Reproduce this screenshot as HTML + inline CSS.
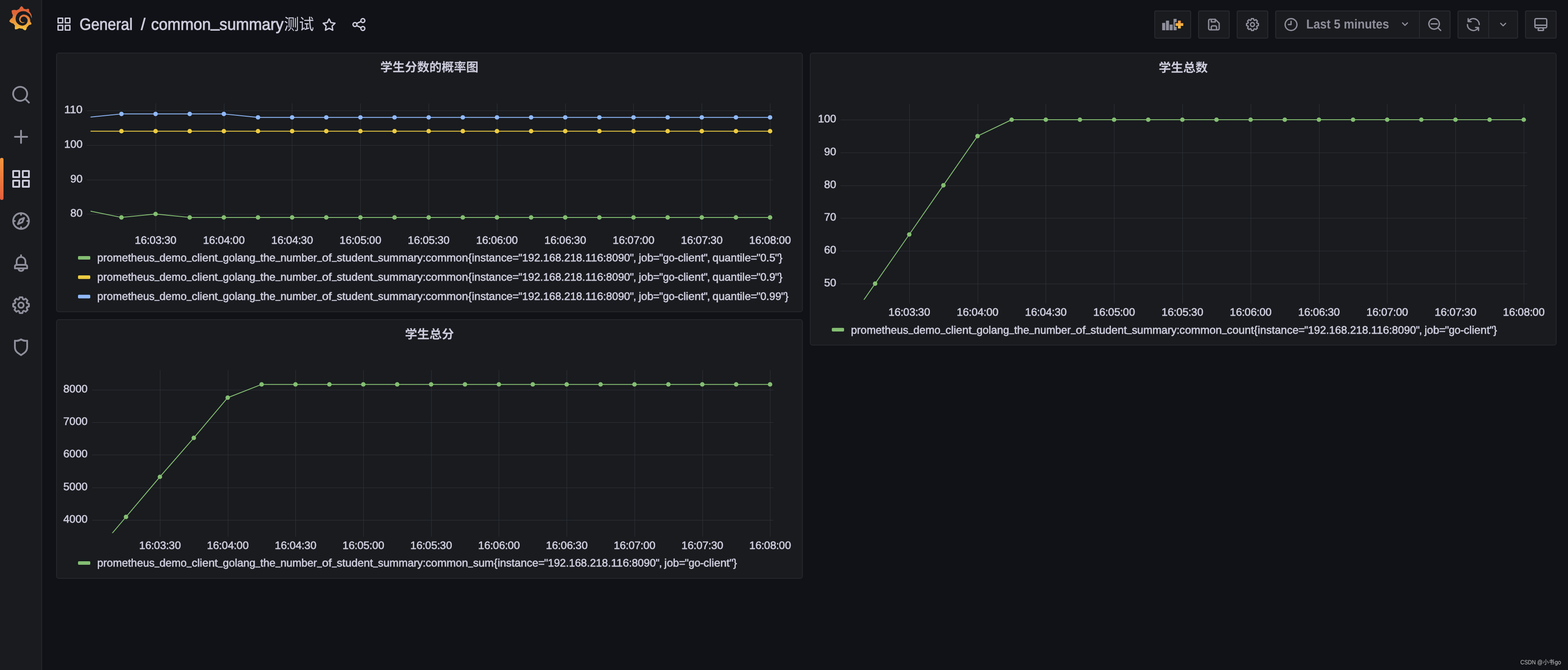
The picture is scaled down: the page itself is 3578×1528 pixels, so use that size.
<!DOCTYPE html>
<html lang="en"><head><meta charset="utf-8"><title>common_summary - Grafana</title>
<style>
html,body{margin:0;padding:0;background:#111217;}
body{width:3578px;height:1528px;position:relative;overflow:hidden;font-family:"Liberation Sans","Noto Sans CJK SC",sans-serif;}
svg{display:block;will-change:transform;text-rendering:geometricPrecision;font-family:"Liberation Sans","Noto Sans CJK SC",sans-serif;}
.ic{position:absolute;}
.side{position:absolute;left:0;top:0;width:94px;height:1528px;background:#191b1f;border-right:2px solid #25262c;}
.active{position:absolute;left:0;top:360px;width:8px;height:96px;border-radius:4px;background:linear-gradient(#f2953f,#e35f3e);}
.tb{position:absolute;left:0;top:0;width:3578px;height:112px;}
.btn{position:absolute;top:24px;height:64px;box-sizing:border-box;background:#191b1f;border:2px solid #292a30;border-radius:4px;}
.div{position:absolute;top:26px;width:2px;height:60px;background:#292a30;}
.panel{position:absolute;box-sizing:border-box;background:#191b1f;border:2px solid #25262c;border-radius:6px;}
.panel svg{position:absolute;left:-2px;top:-2px;}
.grid{stroke:#2e3136;stroke-width:1;fill:none;shape-rendering:crispEdges;}
.ln{fill:none;stroke-width:2;stroke-linejoin:round;}
.ax text,.lg text{font-size:24.7px;fill:#ccccdc;stroke:#ccccdc;stroke-width:0.75px;}
</style></head>
<body>
<nav class="side">
<svg class="ic" style="left:19.1px;top:13.9px" width="55.8" height="55.2" viewBox="0 0 24 24" preserveAspectRatio="none"><defs><linearGradient id="gl" x1="0" y1="0" x2="0" y2="1"><stop offset="0" stop-color="#de6238"/><stop offset="0.3" stop-color="#df6538"/><stop offset="0.55" stop-color="#e88c38"/><stop offset="1" stop-color="#f5c840"/></linearGradient></defs><path fill="url(#gl)" d="M23.02 10.59a8.6 8.6 0 0 0-.862-3.034 8.9 8.9 0 0 0-1.789-2.445c.337-1.342-.413-2.505-.413-2.505-1.292-.08-2.113.4-2.416.62q-.077-.032-.154-.064-.33-.134-.677-.247-.348-.11-.711-.197a10 10 0 0 0-.875-.161C14.557.753 12.94 0 12.94 0c-1.804 1.145-2.147 2.744-2.147 2.744l-.018.093q-.149.042-.298.088c-.138.042-.275.094-.413.143-.138.055-.275.107-.41.166a9 9 0 0 0-1.557.87l-.063-.029c-2.497-.955-4.716.195-4.716.195-.203 2.658.996 4.33 1.235 4.636a11.6 11.6 0 0 0-.607 2.635C1.636 12.677.953 15.014.953 15.014c1.926 2.214 4.171 2.351 4.171 2.351q.005-.002.006-.005c.285.509.615.994.986 1.446q.235.284.488.548c-.704 2.009.099 3.68.099 3.68 2.144.08 3.553-.937 3.849-1.173a9.8 9.8 0 0 0 3.164.501h.08l.055-.003.107-.002.103-.005.003.002c1.01 1.44 2.788 1.646 2.788 1.646 1.264-1.332 1.337-2.653 1.337-2.94v-.058q-.002-.03-.003-.06.4-.28.758-.6a7.9 7.9 0 0 0 1.415-1.7c1.43.083 2.437-.885 2.437-.885-.236-1.49-1.085-2.216-1.264-2.354l-.018-.013-.016-.013-.031-.02q.013-.137.02-.27.016-.244.016-.48v-.253l-.005-.098-.008-.135a2 2 0 0 0-.01-.13q-.005-.063-.013-.125l-.016-.124-.018-.122a6.2 6.2 0 0 0-2.032-3.73 6 6 0 0 0-3.222-1.46 6 6 0 0 0-.85-.048l-.107.002h-.063l-.044.003-.104.008a4.78 4.78 0 0 0-3.335 1.695c-.332.4-.592.84-.768 1.297a4.6 4.6 0 0 0-.312 1.817l.003.091q.006.083.013.164a3.6 3.6 0 0 0 .698 1.82 3.53 3.53 0 0 0 1.827 1.282c.33.098.66.14.971.137q.06 0 .114-.002l.063-.003q.03-.002.062-.003.05-.004.099-.01.012-.001.028-.003l.031-.005.06-.008a1 1 0 0 0 .112-.02c.036-.008.072-.013.109-.024a2.6 2.6 0 0 0 .914-.415q.042-.03.085-.065a.25.25 0 0 0 .039-.35.244.244 0 0 0-.309-.06l-.078.042q-.135.066-.283.116a2.5 2.5 0 0 1-.475.096q-.04.005-.083.006l-.083.002q-.04 0-.08-.002l-.102-.006h-.012l-.024.006q-.024-.003-.044-.006-.046-.004-.091-.01a2.6 2.6 0 0 1-.724-.213 2.6 2.6 0 0 1-.667-.438 2.52 2.52 0 0 1-.805-1.475 2.3 2.3 0 0 1-.029-.444l.006-.122v-.023l.002-.031q.003-.03.005-.06a3.16 3.16 0 0 1 1.352-2.29 3.1 3.1 0 0 1 .937-.43 3 3 0 0 1 .776-.101h.06l.07.002.045.003h.026l.07.005a4 4 0 0 1 1.635.49 3.94 3.94 0 0 1 1.602 1.662 3.8 3.8 0 0 1 .397 1.414l.005.076.003.075q.002.038.002.075c0 .024.003.052 0 .07v.065l-.002.073-.008.174a6 6 0 0 1-.08.639 5 5 0 0 1-.267.927 5.3 5.3 0 0 1-.624 1.13 5.05 5.05 0 0 1-3.237 2.014 5 5 0 0 1-.649.066l-.039.003h-.287a6.6 6.6 0 0 1-1.716-.265 6.78 6.78 0 0 1-3.4-2.274 6.8 6.8 0 0 1-.746-1.15 6.6 6.6 0 0 1-.714-2.596l-.005-.083-.002-.02v-.056l-.003-.073v-.096l-.003-.104v-.07l.003-.163c.008-.22.026-.45.054-.678a9 9 0 0 1 .28-1.355q.192-.668.473-1.277a7 7 0 0 1 1.456-2.1 6 6 0 0 1 .953-.763q.253-.166.524-.306c.089-.05.182-.091.273-.135q.07-.031.138-.062a7 7 0 0 1 .714-.267l.145-.045c.049-.015.098-.026.148-.041q.147-.042.296-.076c.049-.013.1-.02.15-.033l.15-.032.151-.028.076-.013.075-.01.153-.024c.057-.01.114-.013.171-.023l.169-.021q.055-.006.106-.01l.073-.008.036-.003.042-.002q.086-.006.171-.01l.086-.006h.023l.037-.003.145-.007a8 8 0 0 1 1.708.125 8 8 0 0 1 2.048.68 8.3 8.3 0 0 1 1.672 1.09l.09.077.089.078c.06.052.114.107.171.159q.085.079.166.16.08.08.159.164a8.7 8.7 0 0 1 1.41 1.978c.012.026.028.052.04.078l.04.078.075.156c.023.051.05.1.07.153l.065.15a9 9 0 0 1 .45 1.34.19.19 0 0 0 .201.142.186.186 0 0 0 .172-.184q.015-.37-.024-.856z"/></svg>
<svg class="ic" style="left:23.9px;top:191.8px" width="48" height="48" viewBox="0 0 24 24"><path fill="#8e8f9b" d="M21.71,20.29,18,16.61A9,9,0,1,0,16.61,18l3.68,3.68a1,1,0,0,0,1.42,0A1,1,0,0,0,21.71,20.29ZM11,18a7,7,0,1,1,7-7A7,7,0,0,1,11,18Z"/></svg>
<svg class="ic" style="left:23.9px;top:287.8px" width="48" height="48" viewBox="0 0 24 24"><path fill="#8e8f9b" d="M19,11H13V5a1,1,0,0,0-2,0v6H5a1,1,0,0,0,0,2h6v6a1,1,0,0,0,2,0V13h6a1,1,0,0,0,0-2Z"/></svg>
<svg class="ic" style="left:23.9px;top:383.8px" width="48" height="48" viewBox="0 0 24 24"><path fill="#ccccdc" d="M10,13H3a1,1,0,0,0-1,1v7a1,1,0,0,0,1,1h7a1,1,0,0,0,1-1V14A1,1,0,0,0,10,13ZM9,20H4V15H9ZM21,2H14a1,1,0,0,0-1,1v7a1,1,0,0,0,1,1h7a1,1,0,0,0,1-1V3A1,1,0,0,0,21,2ZM20,9H15V4h5Zm1,4H14a1,1,0,0,0-1,1v7a1,1,0,0,0,1,1h7a1,1,0,0,0,1-1V14A1,1,0,0,0,21,13Zm-1,7H15V15h5ZM10,2H3A1,1,0,0,0,2,3v7a1,1,0,0,0,1,1h7a1,1,0,0,0,1-1V3A1,1,0,0,0,10,2ZM9,9H4V4H9Z"/></svg>
<svg class="ic" style="left:23.9px;top:479.8px" width="48" height="48" viewBox="0 0 24 24"><path fill="#8e8f9b" d="M12,2A10,10,0,1,0,22,12,10,10,0,0,0,12,2Zm1,17.93V19a1,1,0,0,0-2,0v.93A8,8,0,0,1,4.07,13H5a1,1,0,0,0,0-2H4.07A8,8,0,0,1,11,4.07V5a1,1,0,0,0,2,0V4.07A8,8,0,0,1,19.93,11H19a1,1,0,0,0,0,2h.93A8,8,0,0,1,13,19.93ZM15.14,7.55l-5,2.12a1,1,0,0,0-.53.53l-2.12,5a1,1,0,0,0,.21,1.1,1,1,0,0,0,.7.29.93.93,0,0,0,.39-.08l5-2.12a1,1,0,0,0,.53-.53l2.12-5a1,1,0,0,0-1.31-1.31Zm-2.49,5.1-2.28,1,1-2.28,2.27-1Z"/></svg>
<svg class="ic" style="left:23.9px;top:575.8px" width="48" height="48" viewBox="0 0 24 24"><path fill="#8e8f9b" d="M18,13.18V10a6,6,0,0,0-5-5.91V3a1,1,0,0,0-2,0V4.09A6,6,0,0,0,6,10v3.18A3,3,0,0,0,4,16v2a1,1,0,0,0,1,1H8.14a4,4,0,0,0,7.72,0H19a1,1,0,0,0,1-1V16A3,3,0,0,0,18,13.18ZM8,10a4,4,0,0,1,8,0v3H8Zm4,10a2,2,0,0,1-1.72-1h3.44A2,2,0,0,1,12,20Zm6-3H6V16a1,1,0,0,1,1-1H17a1,1,0,0,1,1,1Z"/></svg>
<svg class="ic" style="left:23.9px;top:671.8px" width="48" height="48" viewBox="0 0 24 24"><path fill="#8e8f9b" d="M21.32,9.55l-1.89-.63.89-1.78A1,1,0,0,0,20.13,6L18,3.87a1,1,0,0,0-1.15-.19l-1.78.89-.63-1.89A1,1,0,0,0,13.5,2h-3a1,1,0,0,0-.95.68L8.92,4.57,7.14,3.68A1,1,0,0,0,6,3.87L3.87,6a1,1,0,0,0-.19,1.15l.89,1.78-1.89.63A1,1,0,0,0,2,10.5v3a1,1,0,0,0,.68.95l1.89.63-.89,1.78A1,1,0,0,0,3.87,18L6,20.13a1,1,0,0,0,1.15.19l1.78-.89.63,1.89a1,1,0,0,0,.95.68h3a1,1,0,0,0,.95-.68l.63-1.89,1.78.89A1,1,0,0,0,18,20.13L20.13,18a1,1,0,0,0,.19-1.15l-.89-1.78,1.89-.63A1,1,0,0,0,22,13.5v-3A1,1,0,0,0,21.32,9.55ZM20,12.78l-1.2.4A2,2,0,0,0,17.64,16l.57,1.14-1.1,1.1L16,17.64a2,2,0,0,0-2.79,1.16l-.4,1.2H11.22l-.4-1.2A2,2,0,0,0,8,17.64l-1.14.57-1.1-1.1L6.36,16A2,2,0,0,0,5.2,13.18L4,12.78V11.22l1.2-.4A2,2,0,0,0,6.36,8L5.79,6.89l1.1-1.1L8,6.36A2,2,0,0,0,10.82,5.2l.4-1.2h1.56l.4,1.2A2,2,0,0,0,16,6.36l1.14-.57,1.1,1.1L17.64,8a2,2,0,0,0,1.16,2.79l1.2.4ZM12,8a4,4,0,1,0,4,4A4,4,0,0,0,12,8Zm0,6a2,2,0,1,1,2-2A2,2,0,0,1,12,14Z"/></svg>
<svg class="ic" style="left:23.9px;top:767.8px" width="48" height="48" viewBox="0 0 24 24"><path fill="#8e8f9b" d="M19.63,3.65a1,1,0,0,0-.84-.2,8,8,0,0,1-6.22-1.27,1,1,0,0,0-1.14,0A8,8,0,0,1,5.21,3.45a1,1,0,0,0-.84.2A1,1,0,0,0,4,4.43v7.45a9,9,0,0,0,3.77,7.33l3.65,2.6a1,1,0,0,0,1.16,0l3.65-2.6A9,9,0,0,0,20,11.88V4.43A1,1,0,0,0,19.63,3.65ZM18,11.88a7,7,0,0,1-2.93,5.7L12,19.77,8.93,17.58A7,7,0,0,1,6,11.88V5.58a10,10,0,0,0,6-1.39,10,10,0,0,0,6,1.39Z"/></svg>
<div class="active"></div>
</nav>
<header class="tb">
<svg class="ic" style="left:128px;top:37.2px" width="36" height="36" viewBox="0 0 24 24"><path fill="#ccccdc" d="M10,13H3a1,1,0,0,0-1,1v7a1,1,0,0,0,1,1h7a1,1,0,0,0,1-1V14A1,1,0,0,0,10,13ZM9,20H4V15H9ZM21,2H14a1,1,0,0,0-1,1v7a1,1,0,0,0,1,1h7a1,1,0,0,0,1-1V3A1,1,0,0,0,21,2ZM20,9H15V4h5Zm1,4H14a1,1,0,0,0-1,1v7a1,1,0,0,0,1,1h7a1,1,0,0,0,1-1V14A1,1,0,0,0,21,13Zm-1,7H15V15h5ZM10,2H3A1,1,0,0,0,2,3v7a1,1,0,0,0,1,1h7a1,1,0,0,0,1-1V3A1,1,0,0,0,10,2ZM9,9H4V4H9Z"/></svg>
<svg class="ic" style="left:96px;top:0" width="900" height="112" viewBox="96 0 900 112"><g font-size="37.3" fill="#ccccdc" stroke="#ccccdc" stroke-width="1"><text x="181.5" y="67.6" textLength="121" lengthAdjust="spacingAndGlyphs" font-size="37.3">General</text><text x="321.5" y="67.6" font-size="37.3">/</text><text x="344.8" y="67.6" textLength="302.2" lengthAdjust="spacingAndGlyphs" font-size="37.3">common<tspan dy="-5.41">_</tspan><tspan dy="5.41">s</tspan>ummary</text></g><text x="648" y="67.6" font-size="36" fill="#ccccdc" font-family="&quot;Liberation Sans&quot;,&quot;Noto Sans CJK SC&quot;,sans-serif" textLength="68.5" lengthAdjust="spacingAndGlyphs">测试</text></svg>
<svg class="ic" style="left:732.7px;top:38px" width="36" height="36" viewBox="0 0 24 24"><path fill="#ccccdc" d="M22,9.67A1,1,0,0,0,21.14,9l-5.69-.83L12.9,3a1,1,0,0,0-1.8,0L8.55,8.16,2.86,9a1,1,0,0,0-.81.68,1,1,0,0,0,.25,1l4.13,4-1,5.68A1,1,0,0,0,6.9,21.44L12,18.77l5.1,2.67a.93.93,0,0,0,.46.12,1,1,0,0,0,.59-.19,1,1,0,0,0,.4-1l-1-5.68,4.13-4A1,1,0,0,0,22,9.67Zm-6.15,4a1,1,0,0,0-.29.88l.72,4.2-3.76-2a1.06,1.06,0,0,0-.94,0l-3.76,2,.72-4.2a1,1,0,0,0-.29-.88l-3-3,4.21-.61a1,1,0,0,0,.76-.55L12,5.7l1.88,3.82a1,1,0,0,0,.76.55l4.21.61Z"/></svg>
<svg class="ic" style="left:801px;top:38px" width="36" height="36" viewBox="0 0 24 24"><path fill="#ccccdc" d="M18,14a4,4,0,0,0-3.08,1.48l-5.1-2.35a3.64,3.64,0,0,0,0-2.26l5.1-2.35A4,4,0,1,0,14,6a4.17,4.17,0,0,0,.07.71L8.79,9.14a4,4,0,1,0,0,5.72l5.28,2.43A4.17,4.17,0,0,0,14,18a4,4,0,1,0,4-4ZM18,4a2,2,0,1,1-2,2A2,2,0,0,1,18,4ZM6,14a2,2,0,1,1,2-2A2,2,0,0,1,6,14Zm12,6a2,2,0,1,1,2-2A2,2,0,0,1,18,20Z"/></svg>
<div class="btn" style="left:2634px;width:84px"></div>
<div class="btn" style="left:2734px;width:72px"></div>
<div class="btn" style="left:2822px;width:72px"></div>
<div class="btn" style="left:2910px;width:400px"></div>
<div class="div" style="left:3238px"></div>
<div class="btn" style="left:3326px;width:138px"></div>
<div class="div" style="left:3396px"></div>
<div class="btn" style="left:3480px;width:72px"></div>
<svg class="ic" style="left:2646px;top:36px" width="60" height="40" viewBox="2646 36 60 40"><defs><linearGradient id="gp" x1="0" y1="0" x2="0" y2="1"><stop offset="0" stop-color="#ef8f3e"/><stop offset="1" stop-color="#f9cb4a"/></linearGradient></defs>
<path fill="#8e8f9b" d="M2651.9 52.2h7v16.9h-7zM2660.6 47h7v22.1h-7zM2669 56h7v13.1h-7zM2677.9 43h7v26.1h-7z"/>
<path fill="#191b1f" d="M2686 44.5h10.4v6h6v10.4h-6v6h-10.4v-6h-5.2v-10.4h5.2z"/>
<path fill="url(#gp)" d="M2688 47h6.4v5.7h5.7v6.4h-5.7v5.7h-6.4v-5.7h-5.7v-6.4h5.7z"/></svg>
<svg class="ic" style="left:2752px;top:38px" width="36" height="36" viewBox="0 0 24 24"><path fill="#8e8f9b" d="M20.71,9.29l-6-6a1,1,0,0,0-.32-.21A1.09,1.09,0,0,0,14,3H6A3,3,0,0,0,3,6V18a3,3,0,0,0,3,3H18a3,3,0,0,0,3-3V10A1,1,0,0,0,20.71,9.29ZM9,5h4V7H9Zm6,14H9V16a1,1,0,0,1,1-1h4a1,1,0,0,1,1,1Zm4-1a1,1,0,0,1-1,1H17V16a3,3,0,0,0-3-3H10a3,3,0,0,0-3,3v3H6a1,1,0,0,1-1-1V6A1,1,0,0,1,6,5H7V8A1,1,0,0,0,8,9h6a1,1,0,0,0,1-1V6.41l4,4Z"/></svg>
<svg class="ic" style="left:2840px;top:38px" width="36" height="36" viewBox="0 0 24 24"><path fill="#8e8f9b" d="M21.32,9.55l-1.89-.63.89-1.78A1,1,0,0,0,20.13,6L18,3.87a1,1,0,0,0-1.15-.19l-1.78.89-.63-1.89A1,1,0,0,0,13.5,2h-3a1,1,0,0,0-.95.68L8.92,4.57,7.14,3.68A1,1,0,0,0,6,3.87L3.87,6a1,1,0,0,0-.19,1.15l.89,1.78-1.89.63A1,1,0,0,0,2,10.5v3a1,1,0,0,0,.68.95l1.89.63-.89,1.78A1,1,0,0,0,3.87,18L6,20.13a1,1,0,0,0,1.15.19l1.78-.89.63,1.89a1,1,0,0,0,.95.68h3a1,1,0,0,0,.95-.68l.63-1.89,1.78.89A1,1,0,0,0,18,20.13L20.13,18a1,1,0,0,0,.19-1.15l-.89-1.78,1.89-.63A1,1,0,0,0,22,13.5v-3A1,1,0,0,0,21.32,9.55ZM20,12.78l-1.2.4A2,2,0,0,0,17.64,16l.57,1.14-1.1,1.1L16,17.64a2,2,0,0,0-2.79,1.16l-.4,1.2H11.22l-.4-1.2A2,2,0,0,0,8,17.64l-1.14.57-1.1-1.1L6.36,16A2,2,0,0,0,5.2,13.18L4,12.78V11.22l1.2-.4A2,2,0,0,0,6.36,8L5.79,6.89l1.1-1.1L8,6.36A2,2,0,0,0,10.82,5.2l.4-1.2h1.56l.4,1.2A2,2,0,0,0,16,6.36l1.14-.57,1.1,1.1L17.64,8a2,2,0,0,0,1.16,2.79l1.2.4ZM12,8a4,4,0,1,0,4,4A4,4,0,0,0,12,8Zm0,6a2,2,0,1,1,2-2A2,2,0,0,1,12,14Z"/></svg>
<svg class="ic" style="left:2928px;top:38px" width="36" height="36" viewBox="0 0 24 24"><path fill="#8e8f9b" d="M12,2A10,10,0,1,0,22,12,10.01,10.01,0,0,0,12,2Zm0,18a8,8,0,1,1,8-8A8.01,8.01,0,0,1,12,20ZM12,6a1,1,0,0,0-1,1v4H8a1,1,0,0,0,0,2h4a1,1,0,0,0,1-1V7A1,1,0,0,0,12,6Z"/></svg>
<svg class="ic" style="left:2970px;top:24px" width="220" height="64" viewBox="2970 24 220 64"><text x="2980.8" y="65.1" textLength="189" lengthAdjust="spacingAndGlyphs" font-size="29.6" fill="#8e8f9b" font-weight="bold">Last 5 minutes</text></svg>
<svg class="ic" style="left:3189.8px;top:39.4px" width="32" height="32" viewBox="0 0 24 24"><path fill="#8e8f9b" d="M17,9.17a1,1,0,0,0-1.41,0L12,12.71,8.46,9.17a1,1,0,0,0-1.41,0,1,1,0,0,0,0,1.42l4.24,4.24a1,1,0,0,0,1.42,0L17,10.59A1,1,0,0,0,17,9.17Z"/></svg>
<svg class="ic" style="left:3256px;top:38px" width="36" height="36" viewBox="0 0 24 24"><path fill="#8e8f9b" d="M21.71,20.29,18,16.61A9,9,0,1,0,16.61,18l3.68,3.68a1,1,0,0,0,1.42,0A1,1,0,0,0,21.71,20.29ZM11,18a7,7,0,1,1,7-7A7,7,0,0,1,11,18ZM15.5,10h-9a1,1,0,0,0,0,2h9a1,1,0,0,0,0-2Z"/></svg>
<svg class="ic" style="left:3344px;top:38px" width="36" height="36" viewBox="0 0 24 24"><path fill="#8e8f9b" d="M19.91,15.51H15.38a1,1,0,0,0,0,2h2.4A8,8,0,0,1,4,12a1,1,0,0,0-2,0,10,10,0,0,0,16.88,7.23V21a1,1,0,0,0,2,0V16.5A1,1,0,0,0,19.91,15.51ZM12,2A10,10,0,0,0,5.12,4.77V3a1,1,0,0,0-2,0V7.5a1,1,0,0,0,1,1h4.5a1,1,0,0,0,0-2H6.22A8,8,0,0,1,20,12a1,1,0,0,0,2,0A10,10,0,0,0,12,2Z"/></svg>
<svg class="ic" style="left:3414px;top:39.8px" width="32" height="32" viewBox="0 0 24 24"><path fill="#8e8f9b" d="M17,9.17a1,1,0,0,0-1.41,0L12,12.71,8.46,9.17a1,1,0,0,0-1.41,0,1,1,0,0,0,0,1.42l4.24,4.24a1,1,0,0,0,1.42,0L17,10.59A1,1,0,0,0,17,9.17Z"/></svg>
<svg class="ic" style="left:3498px;top:38px" width="36" height="36" viewBox="0 0 24 24"><path fill="#8e8f9b" d="M19,2H5A3,3,0,0,0,2,5V15a3,3,0,0,0,3,3H7.64l-.58,1a2,2,0,0,0,0,2,2,2,0,0,0,1.75,1h6.46A2,2,0,0,0,17,21a2,2,0,0,0,0-2l-.59-1H19a3,3,0,0,0,3-3V5A3,3,0,0,0,19,2ZM8.77,20,10,18H14l1.2,2ZM20,15a1,1,0,0,1-1,1H5a1,1,0,0,1-1-1V14H20Zm0-3H4V5A1,1,0,0,1,5,4H19a1,1,0,0,1,1,1Z"/></svg>
</header>
<main>
<section class="panel" style="left:128px;top:120px;width:1704px;height:592px">
<svg width="1704" height="592" viewBox="128 120 1704 592">
<defs><clipPath id="clip128_120"><rect x="206.4" y="228.4" width="1558" height="291"/></clipPath></defs>
<g class="ptitle"><text x="979.75" y="163.2" text-anchor="middle" font-size="28" font-weight="bold" fill="#ccccdc" font-family="&quot;Liberation Sans&quot;,&quot;Noto Sans CJK SC&quot;,sans-serif">学生分数的概率图</text></g>
<path class="grid" d="M198 252.5H1764.4M198 331.5H1764.4M198 410.5H1764.4M198 488.5H1764.4M355.5 236.4V527.8M511.5 236.4V527.8M666.5 236.4V527.8M822.5 236.4V527.8M978.5 236.4V527.8M1134.5 236.4V527.8M1290.5 236.4V527.8M1445.5 236.4V527.8M1601.5 236.4V527.8M1757.5 236.4V527.8"/>
<g class="ax">
<text y="257.8"><tspan x="146.62" textLength="41.68" lengthAdjust="spacingAndGlyphs">110</tspan></text>
<text y="336.8"><tspan x="146.62" textLength="41.68" lengthAdjust="spacingAndGlyphs">100</tspan></text>
<text y="415.8"><tspan x="160.51" textLength="27.79" lengthAdjust="spacingAndGlyphs">90</tspan></text>
<text y="493.8"><tspan x="160.51" textLength="27.79" lengthAdjust="spacingAndGlyphs">80</tspan></text>
<text y="556.3"><tspan x="307.43" textLength="27.79" lengthAdjust="spacingAndGlyphs">16</tspan><tspan x="334.78">:</tspan><tspan x="341.21" textLength="27.79" lengthAdjust="spacingAndGlyphs">03</tspan><tspan x="368.56">:</tspan><tspan x="374.98" textLength="27.79" lengthAdjust="spacingAndGlyphs">30</tspan></text>
<text y="556.3"><tspan x="463.23" textLength="27.79" lengthAdjust="spacingAndGlyphs">16</tspan><tspan x="490.58">:</tspan><tspan x="497.01" textLength="27.79" lengthAdjust="spacingAndGlyphs">04</tspan><tspan x="524.36">:</tspan><tspan x="530.78" textLength="27.79" lengthAdjust="spacingAndGlyphs">00</tspan></text>
<text y="556.3"><tspan x="619.03" textLength="27.79" lengthAdjust="spacingAndGlyphs">16</tspan><tspan x="646.38">:</tspan><tspan x="652.81" textLength="27.79" lengthAdjust="spacingAndGlyphs">04</tspan><tspan x="680.16">:</tspan><tspan x="686.58" textLength="27.79" lengthAdjust="spacingAndGlyphs">30</tspan></text>
<text y="556.3"><tspan x="774.83" textLength="27.79" lengthAdjust="spacingAndGlyphs">16</tspan><tspan x="802.18">:</tspan><tspan x="808.61" textLength="27.79" lengthAdjust="spacingAndGlyphs">05</tspan><tspan x="835.96">:</tspan><tspan x="842.38" textLength="27.79" lengthAdjust="spacingAndGlyphs">00</tspan></text>
<text y="556.3"><tspan x="930.63" textLength="27.79" lengthAdjust="spacingAndGlyphs">16</tspan><tspan x="957.98">:</tspan><tspan x="964.41" textLength="27.79" lengthAdjust="spacingAndGlyphs">05</tspan><tspan x="991.76">:</tspan><tspan x="998.18" textLength="27.79" lengthAdjust="spacingAndGlyphs">30</tspan></text>
<text y="556.3"><tspan x="1086.43" textLength="27.79" lengthAdjust="spacingAndGlyphs">16</tspan><tspan x="1113.78">:</tspan><tspan x="1120.21" textLength="27.79" lengthAdjust="spacingAndGlyphs">06</tspan><tspan x="1147.56">:</tspan><tspan x="1153.98" textLength="27.79" lengthAdjust="spacingAndGlyphs">00</tspan></text>
<text y="556.3"><tspan x="1242.23" textLength="27.79" lengthAdjust="spacingAndGlyphs">16</tspan><tspan x="1269.58">:</tspan><tspan x="1276.01" textLength="27.79" lengthAdjust="spacingAndGlyphs">06</tspan><tspan x="1303.36">:</tspan><tspan x="1309.78" textLength="27.79" lengthAdjust="spacingAndGlyphs">30</tspan></text>
<text y="556.3"><tspan x="1398.03" textLength="27.79" lengthAdjust="spacingAndGlyphs">16</tspan><tspan x="1425.38">:</tspan><tspan x="1431.81" textLength="27.79" lengthAdjust="spacingAndGlyphs">07</tspan><tspan x="1459.16">:</tspan><tspan x="1465.58" textLength="27.79" lengthAdjust="spacingAndGlyphs">00</tspan></text>
<text y="556.3"><tspan x="1553.83" textLength="27.79" lengthAdjust="spacingAndGlyphs">16</tspan><tspan x="1581.18">:</tspan><tspan x="1587.61" textLength="27.79" lengthAdjust="spacingAndGlyphs">07</tspan><tspan x="1614.96">:</tspan><tspan x="1621.38" textLength="27.79" lengthAdjust="spacingAndGlyphs">30</tspan></text>
<text y="556.3"><tspan x="1709.63" textLength="27.79" lengthAdjust="spacingAndGlyphs">16</tspan><tspan x="1736.98">:</tspan><tspan x="1743.41" textLength="27.79" lengthAdjust="spacingAndGlyphs">08</tspan><tspan x="1770.76">:</tspan><tspan x="1777.18" textLength="27.79" lengthAdjust="spacingAndGlyphs">00</tspan></text>
</g>
<g clip-path="url(#clip128_120)"><path class="ln" stroke="#84be72" d="M206.4 481.6L277.1 495.88L355 488.01L432.9 495.88L510.8 495.88L588.7 495.88L666.6 495.88L744.5 495.88L822.4 495.88L900.3 495.88L978.2 495.88L1056.1 495.88L1134 495.88L1211.9 495.88L1289.8 495.88L1367.7 495.88L1445.6 495.88L1523.5 495.88L1601.4 495.88L1679.3 495.88L1757.2 495.88"/></g>
<g fill="#84be72"><circle cx="277.1" cy="495.88" r="5.1"/><circle cx="355" cy="488.01" r="5.1"/><circle cx="432.9" cy="495.88" r="5.1"/><circle cx="510.8" cy="495.88" r="5.1"/><circle cx="588.7" cy="495.88" r="5.1"/><circle cx="666.6" cy="495.88" r="5.1"/><circle cx="744.5" cy="495.88" r="5.1"/><circle cx="822.4" cy="495.88" r="5.1"/><circle cx="900.3" cy="495.88" r="5.1"/><circle cx="978.2" cy="495.88" r="5.1"/><circle cx="1056.1" cy="495.88" r="5.1"/><circle cx="1134" cy="495.88" r="5.1"/><circle cx="1211.9" cy="495.88" r="5.1"/><circle cx="1289.8" cy="495.88" r="5.1"/><circle cx="1367.7" cy="495.88" r="5.1"/><circle cx="1445.6" cy="495.88" r="5.1"/><circle cx="1523.5" cy="495.88" r="5.1"/><circle cx="1601.4" cy="495.88" r="5.1"/><circle cx="1679.3" cy="495.88" r="5.1"/><circle cx="1757.2" cy="495.88" r="5.1"/></g>
<g clip-path="url(#clip128_120)"><path class="ln" stroke="#eccb42" d="M206.4 299.2L277.1 299.2L355 299.2L432.9 299.2L510.8 299.2L588.7 299.2L666.6 299.2L744.5 299.2L822.4 299.2L900.3 299.2L978.2 299.2L1056.1 299.2L1134 299.2L1211.9 299.2L1289.8 299.2L1367.7 299.2L1445.6 299.2L1523.5 299.2L1601.4 299.2L1679.3 299.2L1757.2 299.2"/></g>
<g fill="#eccb42"><circle cx="277.1" cy="299.2" r="5.1"/><circle cx="355" cy="299.2" r="5.1"/><circle cx="432.9" cy="299.2" r="5.1"/><circle cx="510.8" cy="299.2" r="5.1"/><circle cx="588.7" cy="299.2" r="5.1"/><circle cx="666.6" cy="299.2" r="5.1"/><circle cx="744.5" cy="299.2" r="5.1"/><circle cx="822.4" cy="299.2" r="5.1"/><circle cx="900.3" cy="299.2" r="5.1"/><circle cx="978.2" cy="299.2" r="5.1"/><circle cx="1056.1" cy="299.2" r="5.1"/><circle cx="1134" cy="299.2" r="5.1"/><circle cx="1211.9" cy="299.2" r="5.1"/><circle cx="1289.8" cy="299.2" r="5.1"/><circle cx="1367.7" cy="299.2" r="5.1"/><circle cx="1445.6" cy="299.2" r="5.1"/><circle cx="1523.5" cy="299.2" r="5.1"/><circle cx="1601.4" cy="299.2" r="5.1"/><circle cx="1679.3" cy="299.2" r="5.1"/><circle cx="1757.2" cy="299.2" r="5.1"/></g>
<g clip-path="url(#clip128_120)"><path class="ln" stroke="#90b9fa" d="M206.4 267.01L277.1 259.87L355 259.87L432.9 259.87L510.8 259.87L588.7 267.73L666.6 267.73L744.5 267.73L822.4 267.73L900.3 267.73L978.2 267.73L1056.1 267.73L1134 267.73L1211.9 267.73L1289.8 267.73L1367.7 267.73L1445.6 267.73L1523.5 267.73L1601.4 267.73L1679.3 267.73L1757.2 267.73"/></g>
<g fill="#90b9fa"><circle cx="277.1" cy="259.87" r="5.1"/><circle cx="355" cy="259.87" r="5.1"/><circle cx="432.9" cy="259.87" r="5.1"/><circle cx="510.8" cy="259.87" r="5.1"/><circle cx="588.7" cy="267.73" r="5.1"/><circle cx="666.6" cy="267.73" r="5.1"/><circle cx="744.5" cy="267.73" r="5.1"/><circle cx="822.4" cy="267.73" r="5.1"/><circle cx="900.3" cy="267.73" r="5.1"/><circle cx="978.2" cy="267.73" r="5.1"/><circle cx="1056.1" cy="267.73" r="5.1"/><circle cx="1134" cy="267.73" r="5.1"/><circle cx="1211.9" cy="267.73" r="5.1"/><circle cx="1289.8" cy="267.73" r="5.1"/><circle cx="1367.7" cy="267.73" r="5.1"/><circle cx="1445.6" cy="267.73" r="5.1"/><circle cx="1523.5" cy="267.73" r="5.1"/><circle cx="1601.4" cy="267.73" r="5.1"/><circle cx="1679.3" cy="267.73" r="5.1"/><circle cx="1757.2" cy="267.73" r="5.1"/></g>
<g class="lg">
<rect x="178" y="583.9" width="28" height="8.2" rx="2.2" fill="#84be72"/>
<text y="595.5"><tspan x="221.7" textLength="130.95" lengthAdjust="spacingAndGlyphs">prometheus</tspan><tspan x="353.05" dy="-3.38" textLength="10.63" lengthAdjust="spacingAndGlyphs">_</tspan><tspan x="364.08" dy="3.38" textLength="61.9" lengthAdjust="spacingAndGlyphs">demo</tspan><tspan x="426.37" dy="-3.38" textLength="10.63" lengthAdjust="spacingAndGlyphs">_</tspan><tspan x="437.4" dy="3.38" textLength="59.57" lengthAdjust="spacingAndGlyphs">client</tspan><tspan x="497.37" dy="-3.38" textLength="10.63" lengthAdjust="spacingAndGlyphs">_</tspan><tspan x="508.4" dy="3.38" textLength="74.29" lengthAdjust="spacingAndGlyphs">golang</tspan><tspan x="583.08" dy="-3.38" textLength="10.63" lengthAdjust="spacingAndGlyphs">_</tspan><tspan x="594.11" dy="3.38" textLength="34.4" lengthAdjust="spacingAndGlyphs">the</tspan><tspan x="628.91" dy="-3.38" textLength="10.63" lengthAdjust="spacingAndGlyphs">_</tspan><tspan x="639.94" dy="3.38" textLength="83.37" lengthAdjust="spacingAndGlyphs">number</tspan><tspan x="723.7" dy="-3.38" textLength="10.63" lengthAdjust="spacingAndGlyphs">_</tspan><tspan x="734.73" dy="3.38" textLength="22.33" lengthAdjust="spacingAndGlyphs">of</tspan><tspan x="757.46" dy="-3.38" textLength="10.63" lengthAdjust="spacingAndGlyphs">_</tspan><tspan x="768.49" dy="3.38" textLength="82.64" lengthAdjust="spacingAndGlyphs">student</tspan><tspan x="851.53" dy="-3.38" textLength="10.63" lengthAdjust="spacingAndGlyphs">_</tspan><tspan x="862.55" dy="3.38" textLength="102.26" lengthAdjust="spacingAndGlyphs">summary</tspan><tspan x="964.59">:</tspan><tspan x="971.23" textLength="96.79" lengthAdjust="spacingAndGlyphs">common</tspan><tspan x="1068.25">{</tspan><tspan x="1076.74" textLength="93.03" lengthAdjust="spacingAndGlyphs">instance</tspan><tspan x="1169.44">=</tspan><tspan x="1182.99">&quot;</tspan><tspan x="1191.52" textLength="41.06" lengthAdjust="spacingAndGlyphs">192</tspan><tspan x="1232.62">.</tspan><tspan x="1239.52" textLength="41.06" lengthAdjust="spacingAndGlyphs">168</tspan><tspan x="1280.61">.</tspan><tspan x="1287.51" textLength="41.06" lengthAdjust="spacingAndGlyphs">218</tspan><tspan x="1328.61">.</tspan><tspan x="1335.5" textLength="41.06" lengthAdjust="spacingAndGlyphs">116</tspan><tspan x="1376.34">:</tspan><tspan x="1382.98" textLength="54.85" lengthAdjust="spacingAndGlyphs">8090</tspan><tspan x="1437.59">&quot;</tspan><tspan x="1445.05">,</tspan><tspan x="1457.4" textLength="33.51" lengthAdjust="spacingAndGlyphs">job</tspan><tspan x="1490.58">=</tspan><tspan x="1504.13">&quot;</tspan><tspan x="1512.66" textLength="26.77" lengthAdjust="spacingAndGlyphs">go</tspan><tspan x="1538.94">-</tspan><tspan x="1546.67" textLength="59.57" lengthAdjust="spacingAndGlyphs">client</tspan><tspan x="1605.99">&quot;</tspan><tspan x="1613.45">,</tspan><tspan x="1625.8" textLength="87.53" lengthAdjust="spacingAndGlyphs">quantile</tspan><tspan x="1713">=</tspan><tspan x="1726.56">&quot;</tspan><tspan x="1734.96">0</tspan><tspan x="1748.61">.</tspan><tspan x="1755.38">5</tspan><tspan x="1768.75">&quot;</tspan><tspan x="1777.21">}</tspan></text>
<rect x="178" y="628.1" width="28" height="8.2" rx="2.2" fill="#eccb42"/>
<text y="639.8"><tspan x="221.7" textLength="130.95" lengthAdjust="spacingAndGlyphs">prometheus</tspan><tspan x="353.05" dy="-3.38" textLength="10.63" lengthAdjust="spacingAndGlyphs">_</tspan><tspan x="364.08" dy="3.38" textLength="61.9" lengthAdjust="spacingAndGlyphs">demo</tspan><tspan x="426.37" dy="-3.38" textLength="10.63" lengthAdjust="spacingAndGlyphs">_</tspan><tspan x="437.4" dy="3.38" textLength="59.57" lengthAdjust="spacingAndGlyphs">client</tspan><tspan x="497.37" dy="-3.38" textLength="10.63" lengthAdjust="spacingAndGlyphs">_</tspan><tspan x="508.4" dy="3.38" textLength="74.29" lengthAdjust="spacingAndGlyphs">golang</tspan><tspan x="583.08" dy="-3.38" textLength="10.63" lengthAdjust="spacingAndGlyphs">_</tspan><tspan x="594.11" dy="3.38" textLength="34.4" lengthAdjust="spacingAndGlyphs">the</tspan><tspan x="628.91" dy="-3.38" textLength="10.63" lengthAdjust="spacingAndGlyphs">_</tspan><tspan x="639.94" dy="3.38" textLength="83.37" lengthAdjust="spacingAndGlyphs">number</tspan><tspan x="723.7" dy="-3.38" textLength="10.63" lengthAdjust="spacingAndGlyphs">_</tspan><tspan x="734.73" dy="3.38" textLength="22.33" lengthAdjust="spacingAndGlyphs">of</tspan><tspan x="757.46" dy="-3.38" textLength="10.63" lengthAdjust="spacingAndGlyphs">_</tspan><tspan x="768.49" dy="3.38" textLength="82.64" lengthAdjust="spacingAndGlyphs">student</tspan><tspan x="851.53" dy="-3.38" textLength="10.63" lengthAdjust="spacingAndGlyphs">_</tspan><tspan x="862.55" dy="3.38" textLength="102.26" lengthAdjust="spacingAndGlyphs">summary</tspan><tspan x="964.59">:</tspan><tspan x="971.23" textLength="96.79" lengthAdjust="spacingAndGlyphs">common</tspan><tspan x="1068.25">{</tspan><tspan x="1076.74" textLength="93.03" lengthAdjust="spacingAndGlyphs">instance</tspan><tspan x="1169.44">=</tspan><tspan x="1182.99">&quot;</tspan><tspan x="1191.52" textLength="41.06" lengthAdjust="spacingAndGlyphs">192</tspan><tspan x="1232.62">.</tspan><tspan x="1239.52" textLength="41.06" lengthAdjust="spacingAndGlyphs">168</tspan><tspan x="1280.61">.</tspan><tspan x="1287.51" textLength="41.06" lengthAdjust="spacingAndGlyphs">218</tspan><tspan x="1328.61">.</tspan><tspan x="1335.5" textLength="41.06" lengthAdjust="spacingAndGlyphs">116</tspan><tspan x="1376.34">:</tspan><tspan x="1382.98" textLength="54.85" lengthAdjust="spacingAndGlyphs">8090</tspan><tspan x="1437.59">&quot;</tspan><tspan x="1445.05">,</tspan><tspan x="1457.4" textLength="33.51" lengthAdjust="spacingAndGlyphs">job</tspan><tspan x="1490.58">=</tspan><tspan x="1504.13">&quot;</tspan><tspan x="1512.66" textLength="26.77" lengthAdjust="spacingAndGlyphs">go</tspan><tspan x="1538.94">-</tspan><tspan x="1546.67" textLength="59.57" lengthAdjust="spacingAndGlyphs">client</tspan><tspan x="1605.99">&quot;</tspan><tspan x="1613.45">,</tspan><tspan x="1625.8" textLength="87.53" lengthAdjust="spacingAndGlyphs">quantile</tspan><tspan x="1713">=</tspan><tspan x="1726.56">&quot;</tspan><tspan x="1734.96">0</tspan><tspan x="1748.61">.</tspan><tspan x="1755.38">9</tspan><tspan x="1768.75">&quot;</tspan><tspan x="1777.21">}</tspan></text>
<rect x="178" y="672.3" width="28" height="8.2" rx="2.2" fill="#90b9fa"/>
<text y="684"><tspan x="221.7" textLength="130.95" lengthAdjust="spacingAndGlyphs">prometheus</tspan><tspan x="353.05" dy="-3.38" textLength="10.63" lengthAdjust="spacingAndGlyphs">_</tspan><tspan x="364.08" dy="3.38" textLength="61.9" lengthAdjust="spacingAndGlyphs">demo</tspan><tspan x="426.37" dy="-3.38" textLength="10.63" lengthAdjust="spacingAndGlyphs">_</tspan><tspan x="437.4" dy="3.38" textLength="59.57" lengthAdjust="spacingAndGlyphs">client</tspan><tspan x="497.37" dy="-3.38" textLength="10.63" lengthAdjust="spacingAndGlyphs">_</tspan><tspan x="508.4" dy="3.38" textLength="74.29" lengthAdjust="spacingAndGlyphs">golang</tspan><tspan x="583.08" dy="-3.38" textLength="10.63" lengthAdjust="spacingAndGlyphs">_</tspan><tspan x="594.11" dy="3.38" textLength="34.4" lengthAdjust="spacingAndGlyphs">the</tspan><tspan x="628.91" dy="-3.38" textLength="10.63" lengthAdjust="spacingAndGlyphs">_</tspan><tspan x="639.94" dy="3.38" textLength="83.37" lengthAdjust="spacingAndGlyphs">number</tspan><tspan x="723.7" dy="-3.38" textLength="10.63" lengthAdjust="spacingAndGlyphs">_</tspan><tspan x="734.73" dy="3.38" textLength="22.33" lengthAdjust="spacingAndGlyphs">of</tspan><tspan x="757.46" dy="-3.38" textLength="10.63" lengthAdjust="spacingAndGlyphs">_</tspan><tspan x="768.49" dy="3.38" textLength="82.64" lengthAdjust="spacingAndGlyphs">student</tspan><tspan x="851.53" dy="-3.38" textLength="10.63" lengthAdjust="spacingAndGlyphs">_</tspan><tspan x="862.55" dy="3.38" textLength="102.26" lengthAdjust="spacingAndGlyphs">summary</tspan><tspan x="964.59">:</tspan><tspan x="971.23" textLength="96.79" lengthAdjust="spacingAndGlyphs">common</tspan><tspan x="1068.25">{</tspan><tspan x="1076.74" textLength="93.03" lengthAdjust="spacingAndGlyphs">instance</tspan><tspan x="1169.44">=</tspan><tspan x="1182.99">&quot;</tspan><tspan x="1191.52" textLength="41.06" lengthAdjust="spacingAndGlyphs">192</tspan><tspan x="1232.62">.</tspan><tspan x="1239.52" textLength="41.06" lengthAdjust="spacingAndGlyphs">168</tspan><tspan x="1280.61">.</tspan><tspan x="1287.51" textLength="41.06" lengthAdjust="spacingAndGlyphs">218</tspan><tspan x="1328.61">.</tspan><tspan x="1335.5" textLength="41.06" lengthAdjust="spacingAndGlyphs">116</tspan><tspan x="1376.34">:</tspan><tspan x="1382.98" textLength="54.85" lengthAdjust="spacingAndGlyphs">8090</tspan><tspan x="1437.59">&quot;</tspan><tspan x="1445.05">,</tspan><tspan x="1457.4" textLength="33.51" lengthAdjust="spacingAndGlyphs">job</tspan><tspan x="1490.58">=</tspan><tspan x="1504.13">&quot;</tspan><tspan x="1512.66" textLength="26.77" lengthAdjust="spacingAndGlyphs">go</tspan><tspan x="1538.94">-</tspan><tspan x="1546.67" textLength="59.57" lengthAdjust="spacingAndGlyphs">client</tspan><tspan x="1605.99">&quot;</tspan><tspan x="1613.45">,</tspan><tspan x="1625.8" textLength="87.53" lengthAdjust="spacingAndGlyphs">quantile</tspan><tspan x="1713">=</tspan><tspan x="1726.56">&quot;</tspan><tspan x="1734.96">0</tspan><tspan x="1748.61">.</tspan><tspan x="1755.5" textLength="27.28" lengthAdjust="spacingAndGlyphs">99</tspan><tspan x="1782.54">&quot;</tspan><tspan x="1791">}</tspan></text>
</g>
</svg></section>
<section class="panel" style="left:1848px;top:120px;width:1704px;height:668px">
<svg width="1704" height="668" viewBox="1848 120 1704 668">
<defs><clipPath id="clip1848_120"><rect x="1926.4" y="229" width="1558.2" height="454.5"/></clipPath></defs>
<g class="ptitle"><text x="2700.1" y="163.5" text-anchor="middle" font-size="28" font-weight="bold" fill="#ccccdc" font-family="&quot;Liberation Sans&quot;,&quot;Noto Sans CJK SC&quot;,sans-serif">学生总数</text></g>
<path class="grid" d="M1918 273.5H3484.6M1918 348.5H3484.6M1918 423.5H3484.6M1918 497.5H3484.6M1918 572.5H3484.6M1918 647.5H3484.6M2075.5 237V692.3M2231.5 237V692.3M2386.5 237V692.3M2542.5 237V692.3M2698.5 237V692.3M2854.5 237V692.3M3010.5 237V692.3M3165.5 237V692.3M3321.5 237V692.3M3477.5 237V692.3"/>
<g class="ax">
<text y="278.8"><tspan x="1866.52" textLength="41.68" lengthAdjust="spacingAndGlyphs">100</tspan></text>
<text y="353.8"><tspan x="1880.41" textLength="27.79" lengthAdjust="spacingAndGlyphs">90</tspan></text>
<text y="428.8"><tspan x="1880.41" textLength="27.79" lengthAdjust="spacingAndGlyphs">80</tspan></text>
<text y="502.8"><tspan x="1880.41" textLength="27.79" lengthAdjust="spacingAndGlyphs">70</tspan></text>
<text y="577.8"><tspan x="1880.41" textLength="27.79" lengthAdjust="spacingAndGlyphs">60</tspan></text>
<text y="652.8"><tspan x="1880.41" textLength="27.79" lengthAdjust="spacingAndGlyphs">50</tspan></text>
<text y="720.1"><tspan x="2027.33" textLength="27.79" lengthAdjust="spacingAndGlyphs">16</tspan><tspan x="2054.68">:</tspan><tspan x="2061.11" textLength="27.79" lengthAdjust="spacingAndGlyphs">03</tspan><tspan x="2088.46">:</tspan><tspan x="2094.88" textLength="27.79" lengthAdjust="spacingAndGlyphs">30</tspan></text>
<text y="720.1"><tspan x="2183.13" textLength="27.79" lengthAdjust="spacingAndGlyphs">16</tspan><tspan x="2210.48">:</tspan><tspan x="2216.91" textLength="27.79" lengthAdjust="spacingAndGlyphs">04</tspan><tspan x="2244.26">:</tspan><tspan x="2250.68" textLength="27.79" lengthAdjust="spacingAndGlyphs">00</tspan></text>
<text y="720.1"><tspan x="2338.93" textLength="27.79" lengthAdjust="spacingAndGlyphs">16</tspan><tspan x="2366.28">:</tspan><tspan x="2372.71" textLength="27.79" lengthAdjust="spacingAndGlyphs">04</tspan><tspan x="2400.06">:</tspan><tspan x="2406.48" textLength="27.79" lengthAdjust="spacingAndGlyphs">30</tspan></text>
<text y="720.1"><tspan x="2494.73" textLength="27.79" lengthAdjust="spacingAndGlyphs">16</tspan><tspan x="2522.08">:</tspan><tspan x="2528.51" textLength="27.79" lengthAdjust="spacingAndGlyphs">05</tspan><tspan x="2555.86">:</tspan><tspan x="2562.28" textLength="27.79" lengthAdjust="spacingAndGlyphs">00</tspan></text>
<text y="720.1"><tspan x="2650.53" textLength="27.79" lengthAdjust="spacingAndGlyphs">16</tspan><tspan x="2677.88">:</tspan><tspan x="2684.31" textLength="27.79" lengthAdjust="spacingAndGlyphs">05</tspan><tspan x="2711.66">:</tspan><tspan x="2718.08" textLength="27.79" lengthAdjust="spacingAndGlyphs">30</tspan></text>
<text y="720.1"><tspan x="2806.33" textLength="27.79" lengthAdjust="spacingAndGlyphs">16</tspan><tspan x="2833.68">:</tspan><tspan x="2840.11" textLength="27.79" lengthAdjust="spacingAndGlyphs">06</tspan><tspan x="2867.46">:</tspan><tspan x="2873.88" textLength="27.79" lengthAdjust="spacingAndGlyphs">00</tspan></text>
<text y="720.1"><tspan x="2962.13" textLength="27.79" lengthAdjust="spacingAndGlyphs">16</tspan><tspan x="2989.48">:</tspan><tspan x="2995.91" textLength="27.79" lengthAdjust="spacingAndGlyphs">06</tspan><tspan x="3023.26">:</tspan><tspan x="3029.68" textLength="27.79" lengthAdjust="spacingAndGlyphs">30</tspan></text>
<text y="720.1"><tspan x="3117.93" textLength="27.79" lengthAdjust="spacingAndGlyphs">16</tspan><tspan x="3145.28">:</tspan><tspan x="3151.71" textLength="27.79" lengthAdjust="spacingAndGlyphs">07</tspan><tspan x="3179.06">:</tspan><tspan x="3185.48" textLength="27.79" lengthAdjust="spacingAndGlyphs">00</tspan></text>
<text y="720.1"><tspan x="3273.73" textLength="27.79" lengthAdjust="spacingAndGlyphs">16</tspan><tspan x="3301.08">:</tspan><tspan x="3307.51" textLength="27.79" lengthAdjust="spacingAndGlyphs">07</tspan><tspan x="3334.86">:</tspan><tspan x="3341.28" textLength="27.79" lengthAdjust="spacingAndGlyphs">30</tspan></text>
<text y="720.1"><tspan x="3429.53" textLength="27.79" lengthAdjust="spacingAndGlyphs">16</tspan><tspan x="3456.88">:</tspan><tspan x="3463.31" textLength="27.79" lengthAdjust="spacingAndGlyphs">08</tspan><tspan x="3490.66">:</tspan><tspan x="3497.08" textLength="27.79" lengthAdjust="spacingAndGlyphs">00</tspan></text>
</g>
<g clip-path="url(#clip1848_120)"><path class="ln" stroke="#84be72" d="M1926.4 748.41L1996.9 646.9L2074.8 534.73L2152.7 422.56L2230.6 310.39L2308.5 273L2386.4 273L2464.3 273L2542.2 273L2620.1 273L2698 273L2775.9 273L2853.8 273L2931.7 273L3009.6 273L3087.5 273L3165.4 273L3243.3 273L3321.2 273L3399.1 273L3477 273"/></g>
<g fill="#84be72"><circle cx="1996.9" cy="646.9" r="5.1"/><circle cx="2074.8" cy="534.73" r="5.1"/><circle cx="2152.7" cy="422.56" r="5.1"/><circle cx="2230.6" cy="310.39" r="5.1"/><circle cx="2308.5" cy="273" r="5.1"/><circle cx="2386.4" cy="273" r="5.1"/><circle cx="2464.3" cy="273" r="5.1"/><circle cx="2542.2" cy="273" r="5.1"/><circle cx="2620.1" cy="273" r="5.1"/><circle cx="2698" cy="273" r="5.1"/><circle cx="2775.9" cy="273" r="5.1"/><circle cx="2853.8" cy="273" r="5.1"/><circle cx="2931.7" cy="273" r="5.1"/><circle cx="3009.6" cy="273" r="5.1"/><circle cx="3087.5" cy="273" r="5.1"/><circle cx="3165.4" cy="273" r="5.1"/><circle cx="3243.3" cy="273" r="5.1"/><circle cx="3321.2" cy="273" r="5.1"/><circle cx="3399.1" cy="273" r="5.1"/><circle cx="3477" cy="273" r="5.1"/></g>
<g class="lg">
<rect x="1898.1" y="747.8" width="28" height="8.2" rx="2.2" fill="#84be72"/>
<text y="760.5"><tspan x="1941.8" textLength="130.95" lengthAdjust="spacingAndGlyphs">prometheus</tspan><tspan x="2073.15" dy="-3.38" textLength="10.63" lengthAdjust="spacingAndGlyphs">_</tspan><tspan x="2084.18" dy="3.38" textLength="61.9" lengthAdjust="spacingAndGlyphs">demo</tspan><tspan x="2146.47" dy="-3.38" textLength="10.63" lengthAdjust="spacingAndGlyphs">_</tspan><tspan x="2157.5" dy="3.38" textLength="59.57" lengthAdjust="spacingAndGlyphs">client</tspan><tspan x="2217.47" dy="-3.38" textLength="10.63" lengthAdjust="spacingAndGlyphs">_</tspan><tspan x="2228.5" dy="3.38" textLength="74.29" lengthAdjust="spacingAndGlyphs">golang</tspan><tspan x="2303.18" dy="-3.38" textLength="10.63" lengthAdjust="spacingAndGlyphs">_</tspan><tspan x="2314.21" dy="3.38" textLength="34.4" lengthAdjust="spacingAndGlyphs">the</tspan><tspan x="2349.01" dy="-3.38" textLength="10.63" lengthAdjust="spacingAndGlyphs">_</tspan><tspan x="2360.04" dy="3.38" textLength="83.37" lengthAdjust="spacingAndGlyphs">number</tspan><tspan x="2443.8" dy="-3.38" textLength="10.63" lengthAdjust="spacingAndGlyphs">_</tspan><tspan x="2454.83" dy="3.38" textLength="22.33" lengthAdjust="spacingAndGlyphs">of</tspan><tspan x="2477.56" dy="-3.38" textLength="10.63" lengthAdjust="spacingAndGlyphs">_</tspan><tspan x="2488.59" dy="3.38" textLength="82.64" lengthAdjust="spacingAndGlyphs">student</tspan><tspan x="2571.63" dy="-3.38" textLength="10.63" lengthAdjust="spacingAndGlyphs">_</tspan><tspan x="2582.65" dy="3.38" textLength="102.26" lengthAdjust="spacingAndGlyphs">summary</tspan><tspan x="2684.69">:</tspan><tspan x="2691.33" textLength="96.79" lengthAdjust="spacingAndGlyphs">common</tspan><tspan x="2788.52" dy="-3.38" textLength="10.63" lengthAdjust="spacingAndGlyphs">_</tspan><tspan x="2799.54" dy="3.38" textLength="61.79" lengthAdjust="spacingAndGlyphs">count</tspan><tspan x="2861.57">{</tspan><tspan x="2870.05" textLength="93.03" lengthAdjust="spacingAndGlyphs">instance</tspan><tspan x="2962.75">=</tspan><tspan x="2976.31">&quot;</tspan><tspan x="2984.84" textLength="41.06" lengthAdjust="spacingAndGlyphs">192</tspan><tspan x="3025.93">.</tspan><tspan x="3032.83" textLength="41.06" lengthAdjust="spacingAndGlyphs">168</tspan><tspan x="3073.93">.</tspan><tspan x="3080.82" textLength="41.06" lengthAdjust="spacingAndGlyphs">218</tspan><tspan x="3121.92">.</tspan><tspan x="3128.82" textLength="41.06" lengthAdjust="spacingAndGlyphs">116</tspan><tspan x="3169.66">:</tspan><tspan x="3176.29" textLength="54.85" lengthAdjust="spacingAndGlyphs">8090</tspan><tspan x="3230.91">&quot;</tspan><tspan x="3238.36">,</tspan><tspan x="3250.71" textLength="33.51" lengthAdjust="spacingAndGlyphs">job</tspan><tspan x="3283.89">=</tspan><tspan x="3297.45">&quot;</tspan><tspan x="3305.98" textLength="26.77" lengthAdjust="spacingAndGlyphs">go</tspan><tspan x="3332.25">-</tspan><tspan x="3339.98" textLength="59.57" lengthAdjust="spacingAndGlyphs">client</tspan><tspan x="3399.31">&quot;</tspan><tspan x="3407.77">}</tspan></text>
</g>
</svg></section>
<section class="panel" style="left:128px;top:728px;width:1704px;height:592px">
<svg width="1704" height="592" viewBox="128 728 1704 592">
<defs><clipPath id="clip128_728"><rect x="218.8" y="836.4" width="1546.1" height="379.4"/></clipPath></defs>
<g class="ptitle"><text x="980" y="771.5" text-anchor="middle" font-size="28" font-weight="bold" fill="#ccccdc" font-family="&quot;Liberation Sans&quot;,&quot;Noto Sans CJK SC&quot;,sans-serif">学生总分</text></g>
<path class="grid" d="M210.4 889.5H1764.9M210.4 963.5H1764.9M210.4 1037.5H1764.9M210.4 1112.5H1764.9M210.4 1186.5H1764.9M365.5 844.4V1224M520.5 844.4V1224M674.5 844.4V1224M829.5 844.4V1224M984.5 844.4V1224M1138.5 844.4V1224M1293.5 844.4V1224M1448.5 844.4V1224M1603.5 844.4V1224M1757.5 844.4V1224"/>
<g class="ax">
<text y="894.8"><tspan x="144.43" textLength="55.57" lengthAdjust="spacingAndGlyphs">8000</tspan></text>
<text y="968.8"><tspan x="144.43" textLength="55.57" lengthAdjust="spacingAndGlyphs">7000</tspan></text>
<text y="1042.8"><tspan x="144.43" textLength="55.57" lengthAdjust="spacingAndGlyphs">6000</tspan></text>
<text y="1117.8"><tspan x="144.43" textLength="55.57" lengthAdjust="spacingAndGlyphs">5000</tspan></text>
<text y="1191.8"><tspan x="144.43" textLength="55.57" lengthAdjust="spacingAndGlyphs">4000</tspan></text>
<text y="1252.2"><tspan x="317.53" textLength="27.79" lengthAdjust="spacingAndGlyphs">16</tspan><tspan x="344.88">:</tspan><tspan x="351.31" textLength="27.79" lengthAdjust="spacingAndGlyphs">03</tspan><tspan x="378.66">:</tspan><tspan x="385.08" textLength="27.79" lengthAdjust="spacingAndGlyphs">30</tspan></text>
<text y="1252.2"><tspan x="472.23" textLength="27.79" lengthAdjust="spacingAndGlyphs">16</tspan><tspan x="499.58">:</tspan><tspan x="506.01" textLength="27.79" lengthAdjust="spacingAndGlyphs">04</tspan><tspan x="533.36">:</tspan><tspan x="539.78" textLength="27.79" lengthAdjust="spacingAndGlyphs">00</tspan></text>
<text y="1252.2"><tspan x="626.93" textLength="27.79" lengthAdjust="spacingAndGlyphs">16</tspan><tspan x="654.28">:</tspan><tspan x="660.71" textLength="27.79" lengthAdjust="spacingAndGlyphs">04</tspan><tspan x="688.06">:</tspan><tspan x="694.48" textLength="27.79" lengthAdjust="spacingAndGlyphs">30</tspan></text>
<text y="1252.2"><tspan x="781.63" textLength="27.79" lengthAdjust="spacingAndGlyphs">16</tspan><tspan x="808.98">:</tspan><tspan x="815.41" textLength="27.79" lengthAdjust="spacingAndGlyphs">05</tspan><tspan x="842.76">:</tspan><tspan x="849.18" textLength="27.79" lengthAdjust="spacingAndGlyphs">00</tspan></text>
<text y="1252.2"><tspan x="936.33" textLength="27.79" lengthAdjust="spacingAndGlyphs">16</tspan><tspan x="963.68">:</tspan><tspan x="970.11" textLength="27.79" lengthAdjust="spacingAndGlyphs">05</tspan><tspan x="997.46">:</tspan><tspan x="1003.88" textLength="27.79" lengthAdjust="spacingAndGlyphs">30</tspan></text>
<text y="1252.2"><tspan x="1091.03" textLength="27.79" lengthAdjust="spacingAndGlyphs">16</tspan><tspan x="1118.38">:</tspan><tspan x="1124.81" textLength="27.79" lengthAdjust="spacingAndGlyphs">06</tspan><tspan x="1152.16">:</tspan><tspan x="1158.58" textLength="27.79" lengthAdjust="spacingAndGlyphs">00</tspan></text>
<text y="1252.2"><tspan x="1245.73" textLength="27.79" lengthAdjust="spacingAndGlyphs">16</tspan><tspan x="1273.08">:</tspan><tspan x="1279.51" textLength="27.79" lengthAdjust="spacingAndGlyphs">06</tspan><tspan x="1306.86">:</tspan><tspan x="1313.28" textLength="27.79" lengthAdjust="spacingAndGlyphs">30</tspan></text>
<text y="1252.2"><tspan x="1400.43" textLength="27.79" lengthAdjust="spacingAndGlyphs">16</tspan><tspan x="1427.78">:</tspan><tspan x="1434.21" textLength="27.79" lengthAdjust="spacingAndGlyphs">07</tspan><tspan x="1461.56">:</tspan><tspan x="1467.98" textLength="27.79" lengthAdjust="spacingAndGlyphs">00</tspan></text>
<text y="1252.2"><tspan x="1555.13" textLength="27.79" lengthAdjust="spacingAndGlyphs">16</tspan><tspan x="1582.48">:</tspan><tspan x="1588.91" textLength="27.79" lengthAdjust="spacingAndGlyphs">07</tspan><tspan x="1616.26">:</tspan><tspan x="1622.68" textLength="27.79" lengthAdjust="spacingAndGlyphs">30</tspan></text>
<text y="1252.2"><tspan x="1709.83" textLength="27.79" lengthAdjust="spacingAndGlyphs">16</tspan><tspan x="1737.18">:</tspan><tspan x="1743.61" textLength="27.79" lengthAdjust="spacingAndGlyphs">08</tspan><tspan x="1770.96">:</tspan><tspan x="1777.38" textLength="27.79" lengthAdjust="spacingAndGlyphs">00</tspan></text>
</g>
<g clip-path="url(#clip128_728)"><path class="ln" stroke="#84be72" d="M218.8 1260.16L287.55 1178.91L364.9 1087.49L442.25 998.67L519.6 906.96L596.95 876.69L674.3 876.69L751.65 876.69L829 876.69L906.35 876.69L983.7 876.69L1061.05 876.69L1138.4 876.69L1215.75 876.69L1293.1 876.69L1370.45 876.69L1447.8 876.69L1525.15 876.69L1602.5 876.69L1679.85 876.69L1757.2 876.69"/></g>
<g fill="#84be72"><circle cx="287.55" cy="1178.91" r="5.1"/><circle cx="364.9" cy="1087.49" r="5.1"/><circle cx="442.25" cy="998.67" r="5.1"/><circle cx="519.6" cy="906.96" r="5.1"/><circle cx="596.95" cy="876.69" r="5.1"/><circle cx="674.3" cy="876.69" r="5.1"/><circle cx="751.65" cy="876.69" r="5.1"/><circle cx="829" cy="876.69" r="5.1"/><circle cx="906.35" cy="876.69" r="5.1"/><circle cx="983.7" cy="876.69" r="5.1"/><circle cx="1061.05" cy="876.69" r="5.1"/><circle cx="1138.4" cy="876.69" r="5.1"/><circle cx="1215.75" cy="876.69" r="5.1"/><circle cx="1293.1" cy="876.69" r="5.1"/><circle cx="1370.45" cy="876.69" r="5.1"/><circle cx="1447.8" cy="876.69" r="5.1"/><circle cx="1525.15" cy="876.69" r="5.1"/><circle cx="1602.5" cy="876.69" r="5.1"/><circle cx="1679.85" cy="876.69" r="5.1"/><circle cx="1757.2" cy="876.69" r="5.1"/></g>
<g class="lg">
<rect x="178" y="1279.9" width="28" height="8.2" rx="2.2" fill="#84be72"/>
<text y="1292"><tspan x="221.7" textLength="130.95" lengthAdjust="spacingAndGlyphs">prometheus</tspan><tspan x="353.05" dy="-3.38" textLength="10.63" lengthAdjust="spacingAndGlyphs">_</tspan><tspan x="364.08" dy="3.38" textLength="61.9" lengthAdjust="spacingAndGlyphs">demo</tspan><tspan x="426.37" dy="-3.38" textLength="10.63" lengthAdjust="spacingAndGlyphs">_</tspan><tspan x="437.4" dy="3.38" textLength="59.57" lengthAdjust="spacingAndGlyphs">client</tspan><tspan x="497.37" dy="-3.38" textLength="10.63" lengthAdjust="spacingAndGlyphs">_</tspan><tspan x="508.4" dy="3.38" textLength="74.29" lengthAdjust="spacingAndGlyphs">golang</tspan><tspan x="583.08" dy="-3.38" textLength="10.63" lengthAdjust="spacingAndGlyphs">_</tspan><tspan x="594.11" dy="3.38" textLength="34.4" lengthAdjust="spacingAndGlyphs">the</tspan><tspan x="628.91" dy="-3.38" textLength="10.63" lengthAdjust="spacingAndGlyphs">_</tspan><tspan x="639.94" dy="3.38" textLength="83.37" lengthAdjust="spacingAndGlyphs">number</tspan><tspan x="723.7" dy="-3.38" textLength="10.63" lengthAdjust="spacingAndGlyphs">_</tspan><tspan x="734.73" dy="3.38" textLength="22.33" lengthAdjust="spacingAndGlyphs">of</tspan><tspan x="757.46" dy="-3.38" textLength="10.63" lengthAdjust="spacingAndGlyphs">_</tspan><tspan x="768.49" dy="3.38" textLength="82.64" lengthAdjust="spacingAndGlyphs">student</tspan><tspan x="851.53" dy="-3.38" textLength="10.63" lengthAdjust="spacingAndGlyphs">_</tspan><tspan x="862.55" dy="3.38" textLength="102.26" lengthAdjust="spacingAndGlyphs">summary</tspan><tspan x="964.59">:</tspan><tspan x="971.23" textLength="96.79" lengthAdjust="spacingAndGlyphs">common</tspan><tspan x="1068.42" dy="-3.38" textLength="10.63" lengthAdjust="spacingAndGlyphs">_</tspan><tspan x="1079.44" dy="3.38" textLength="47.26" lengthAdjust="spacingAndGlyphs">sum</tspan><tspan x="1126.94">{</tspan><tspan x="1135.43" textLength="93.03" lengthAdjust="spacingAndGlyphs">instance</tspan><tspan x="1228.13">=</tspan><tspan x="1241.69">&quot;</tspan><tspan x="1250.21" textLength="41.06" lengthAdjust="spacingAndGlyphs">192</tspan><tspan x="1291.31">.</tspan><tspan x="1298.21" textLength="41.06" lengthAdjust="spacingAndGlyphs">168</tspan><tspan x="1339.31">.</tspan><tspan x="1346.2" textLength="41.06" lengthAdjust="spacingAndGlyphs">218</tspan><tspan x="1387.3">.</tspan><tspan x="1394.19" textLength="41.06" lengthAdjust="spacingAndGlyphs">116</tspan><tspan x="1435.03">:</tspan><tspan x="1441.67" textLength="54.85" lengthAdjust="spacingAndGlyphs">8090</tspan><tspan x="1496.28">&quot;</tspan><tspan x="1503.74">,</tspan><tspan x="1516.09" textLength="33.51" lengthAdjust="spacingAndGlyphs">job</tspan><tspan x="1549.27">=</tspan><tspan x="1562.83">&quot;</tspan><tspan x="1571.35" textLength="26.77" lengthAdjust="spacingAndGlyphs">go</tspan><tspan x="1597.63">-</tspan><tspan x="1605.36" textLength="59.57" lengthAdjust="spacingAndGlyphs">client</tspan><tspan x="1664.68">&quot;</tspan><tspan x="1673.15">}</tspan></text>
</g>
</svg></section>
</main>
<svg class="ic wm" style="left:3460px;top:1496px" width="110" height="28" viewBox="3460 1496 110 28"><g fill="#c9c9c9" font-size="14"><text x="3469.2" y="1514.8" textLength="51.3" lengthAdjust="spacingAndGlyphs" font-size="14">CSDN @</text><text x="3547.8" y="1514.8" textLength="14.4" lengthAdjust="spacingAndGlyphs" font-size="14">go</text></g><text x="3521" y="1514.8" font-size="14" fill="#c9c9c9" font-family="&quot;Liberation Sans&quot;,&quot;Noto Sans CJK SC&quot;,sans-serif" textLength="26" lengthAdjust="spacingAndGlyphs">小书</text></svg>
</body></html>
